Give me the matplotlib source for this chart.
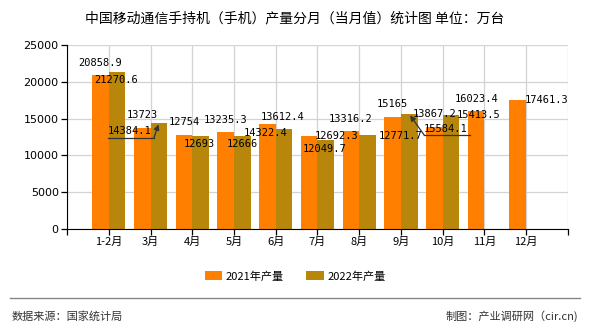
import numpy as np
import matplotlib
matplotlib.use("Agg")
import matplotlib.pyplot as plt
from matplotlib.lines import Line2D

plt.rcParams["font.family"] = ["Noto Sans CJK SC", "DejaVu Sans"]

# ---- data ----
months = ["1-2月", "3月", "4月", "5月", "6月", "7月", "8月", "9月", "10月", "11月", "12月"]
prod_2021 = [20858.9, 13723, 12754, 13235.3, 14322.4, 12692.3, 13316.2, 15165, 13867.2, 16023.4, 17461.3]
prod_2022 = [21270.6, 14384.1, 12693, 12666, 13612.4, 12049.7, 12771.7, 15584.1, 15413.5, np.nan, np.nan]
series_names = ["2021年产量", "2022年产量"]
y_ticks = [0, 5000, 10000, 15000, 20000, 25000]

# label offsets (pixels from bar top centre), mimicking the original layout
off_2021 = [(0, 12), (0, 13), (0, 13), (0, 12), (-2, -9), (27, 0), (0, 12), (0, 13), (0, 13), (0, 12), (29, 0)]
off_2022 = [(-1, -8), (-29, -8), (-1, -8), (0, -8), (-1, 12), (-1, -9), (33, -1), (36, -15), (28, 0), None, None]
# leader lines: index -> (underline far end, underline end where the arrow starts), offset pixels
leaders_2022 = {1: ((-51, -15), (-5, -15)), 7: ((61, -21), (15, -21))}

c21, c22 = "#FF8000", "#B8860B"
fig = plt.figure(figsize=(5.9, 3.3), dpi=100)
ax = fig.add_axes([0.1136, 0.306, 0.849, 0.558])

x = np.arange(len(months))
w = 0.4
ax.bar(x - w / 2, prod_2021, width=w, color=c21, label=series_names[0], zorder=2)
ax.bar(x + w / 2, prod_2022, width=w, color=c22, label=series_names[1], zorder=2)

ax.set_xlim(-1, 11)
ax.set_ylim(0, 25000)
ax.set_xticks(np.arange(-1, 12))
ax.set_xticklabels([""] + months + [""], fontsize=8)
ax.set_yticks(y_ticks)
ax.set_yticklabels([str(t) for t in y_ticks], fontsize=8, family="DejaVu Sans")
ax.grid(True, color="#d3d3d3", lw=0.9, zorder=0)
ax.set_axisbelow(True)
for s in ["top", "right"]:
    ax.spines[s].set_visible(False)
ax.tick_params(direction="out", length=4, width=0.9, pad=2)

lab_font = dict(family="DejaVu Sans Mono", fontsize=7.5, color="black", ha="center", va="center", zorder=5)
for xs, vals, offs in [(x - w / 2, prod_2021, off_2021), (x + w / 2, prod_2022, off_2022)]:
    for xi, v, o in zip(xs, vals, offs):
        if o is None or np.isnan(v):
            continue
        ax.annotate(f"{v:g}", xy=(xi, v), xytext=o, textcoords="offset pixels", **lab_font)

trans = ax.transData
inv = trans.inverted()
for i, (p0, p1) in leaders_2022.items():
    xi, v = x[i] + w / 2, prod_2022[i]
    ax.annotate("", xy=(xi, v), xytext=p1, textcoords="offset pixels",
                arrowprops=dict(arrowstyle="-|>", color="#333333", lw=0.9, mutation_scale=8,
                                shrinkA=0, shrinkB=1), zorder=5)
    bx, by = trans.transform((xi, v))
    a = inv.transform((bx + p0[0], by + p0[1]))
    b = inv.transform((bx + p1[0], by + p1[1]))
    ax.add_line(Line2D([a[0], b[0]], [a[1], b[1]], color="#333333", lw=0.9, zorder=5))

fig.text(0.5, 0.945, "中国移动通信手持机（手机）产量分月（当月值）统计图 单位：万台",
         ha="center", va="center", fontsize=10)
fig.legend(loc="center", bbox_to_anchor=(0.5, 0.163), ncol=2, frameon=False, fontsize=8,
           handlelength=1.6, handleheight=0.8, columnspacing=2.0, handletextpad=0.3)

fig.add_artist(Line2D([0.017, 0.983], [0.097, 0.097], color="#888888", lw=1.0))
fig.text(0.02, 0.042, "数据来源：国家统计局", ha="left", va="center", fontsize=8, color="#333333")
fig.text(0.98, 0.042, "制图：产业调研网（cir.cn)", ha="right", va="center", fontsize=8, color="#333333")

fig.savefig("out.png", dpi=100)
